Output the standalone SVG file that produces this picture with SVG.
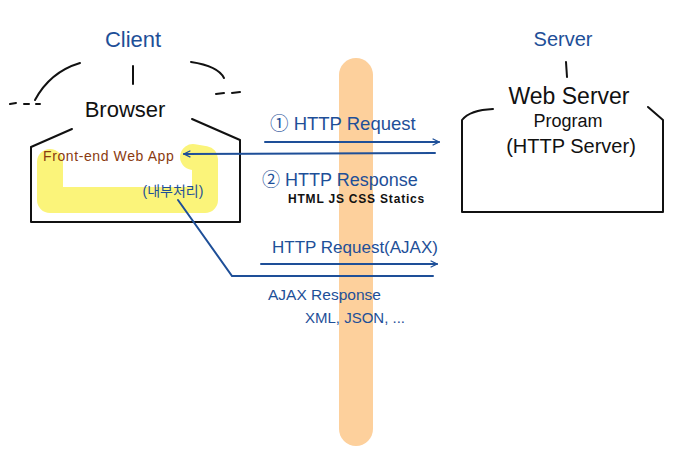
<svg xmlns="http://www.w3.org/2000/svg" width="686" height="459" viewBox="0 0 686 459">
<defs>
<style>
.blue{fill:#1E4F98;font-family:"Liberation Sans","Noto Sans CJK KR",sans-serif}
.black{fill:#111;font-family:"Liberation Sans",sans-serif}
.ln{stroke:#111;stroke-width:2;fill:none;stroke-linecap:round;stroke-linejoin:round}
.bl{stroke:#1E4F98;stroke-width:2;fill:none;stroke-linecap:round}
</style>
<marker id="ah" viewBox="0 0 10 10" refX="9" refY="5" markerWidth="8" markerHeight="8" orient="auto-start-reverse" markerUnits="userSpaceOnUse">
<path d="M1 1 L9 5 L1 9" fill="none" stroke="#1E4F98" stroke-width="1.6"/>
</marker>
</defs>
<rect width="686" height="459" fill="#fff"/>
<rect x="339" y="58" width="34" height="388" rx="17" fill="#FDD09C"/>

<g id="client">
<text x="133" y="47" class="blue" font-size="22" text-anchor="middle">Client</text>
<path class="ln" d="M35 100 Q50 72 80 63"/>
<path class="ln" d="M133 66 L133 84"/>
<path class="ln" d="M191 62 Q218 66 224 78"/>
<path class="ln" d="M10 104 L16 103 M24 104 L29 104 M36 104 L40 104"/>
<path class="ln" d="M216 94 L224 93 M232 93 L240 92"/>
</g>

<g id="browser">
<text x="125" y="117" class="black" font-size="22" text-anchor="middle">Browser</text>
<path class="ln" d="M72 129 L31 147 L31 222 L240 222 L240 140 L192 119"/>
<path d="M50 162 L50 200 L205 200 L205 159 L193 157" fill="none" stroke="#FBF47A" stroke-width="26" stroke-linecap="round" stroke-linejoin="round"/>
<text x="43" y="161" font-family="Liberation Sans,sans-serif" font-size="14" letter-spacing="0.6" fill="#8A3A10">Front-end Web App</text>
<text x="173" y="196" class="blue" font-size="14" text-anchor="middle">(내부처리)</text>
</g>

<g id="server">
<text x="563" y="46" class="blue" font-size="20" text-anchor="middle">Server</text>
<path class="ln" d="M566 62 L567 77"/>
<path class="ln" d="M462 212 L462 120 Q470 110 493 109 M462 212 L663 212 L663 120 L648 107"/>
<text x="569" y="104" class="black" font-size="23" text-anchor="middle">Web Server</text>
<text x="568" y="127" class="black" font-size="18" text-anchor="middle">Program</text>
<text x="571" y="153" class="black" font-size="20" text-anchor="middle">(HTTP Server)</text>
</g>

<g id="connectors">
<path class="bl" d="M265 142 L439 142" marker-end="url(#ah)"/>
<path class="bl" d="M435 153 L184 154" marker-end="url(#ah)"/>
<path class="bl" d="M261 264 L437 264" marker-end="url(#ah)"/>
<path class="bl" d="M178 200 L232 276 L433 276"/>
</g>

<g id="labels">
<text x="270" y="130" class="blue" font-size="18.5">① HTTP Request</text>
<text x="262" y="186" class="blue" font-size="18">② HTTP Response</text>
<text x="288" y="203" class="black" font-size="12" font-weight="bold" letter-spacing="0.8">HTML JS CSS Statics</text>
<text x="272" y="253" class="blue" font-size="17">HTTP Request(AJAX)</text>
<text x="268" y="300" class="blue" font-size="15.5">AJAX Response</text>
<text x="305" y="323" class="blue" font-size="15">XML, JSON, ...</text>
</g>
</svg>
